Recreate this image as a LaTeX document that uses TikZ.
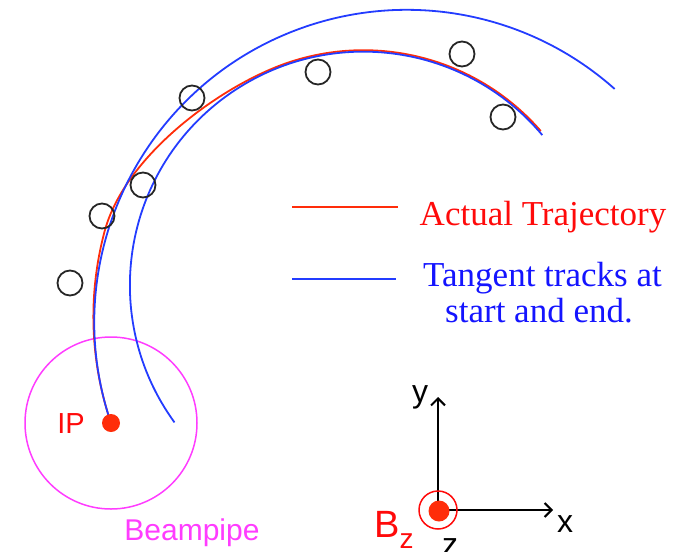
\documentclass[tikz,border=0pt]{standalone}
\usepackage{fontspec}
\setmainfont{Liberation Serif}
\setsansfont{Liberation Sans}
\usetikzlibrary{arrows.meta}
\definecolor{trkred}{RGB}{255,45,10}
\definecolor{trkblue}{RGB}{35,60,255}
\definecolor{txtred}{RGB}{255,10,10}
\definecolor{txtblue}{RGB}{20,20,255}
\definecolor{pipecol}{RGB}{255,60,255}
\begin{document}
\begin{tikzpicture}[x=1pt,y=-1pt,
  redtrk/.style={draw=trkred,line width=1.8pt},
  bluetrk/.style={draw=trkblue,line width=1.8pt},
  hit/.style={circle,draw=black!85,line width=1.8pt,minimum size=25pt,inner sep=0pt},
  axisarrow/.style={line width=2pt,-{Straight Barb[length=7pt,width=14pt,line width=2pt]}},
  serifbig/.style={anchor=base,font=\fontsize{35}{36}\selectfont},
  sanslbl/.style={anchor=base,font=\sffamily\fontsize{32}{34}\selectfont}]
\useasboundingbox (0,0) rectangle (679,551);
\clip (0,0) rectangle (679,551);

% beampipe and IP
\coordinate (ip) at (111,423);
\node[circle,draw=pipecol,line width=1.5pt,minimum size=172pt,inner sep=0pt] (beampipe) at (ip) {};
\node[anchor=base,text=pipecol,font=\sffamily\fontsize{30}{32}\selectfont] (pipelbl) at (192,540) {Beampipe};

% actual trajectory
\draw[redtrk] (ip) arc[start angle=161.2,end angle=195,radius=330]
  .. controls (125.3,154.0) and (224.2,83.3) .. (290.8,61.7)
  arc[start angle=252,end angle=319,radius=235];

% tangent tracks
\draw[bluetrk] (ip) arc[start angle=161.2,end angle=311.7,radius=312.5];
\coordinate (istart) at (174.5,422.4);
\draw[bluetrk] (istart) arc[start angle=144,end angle=320,radius=233.5];

\node[circle,fill=trkred,minimum size=18pt,inner sep=0pt] (ipdot) at (ip) {};
\node[anchor=base,text=txtred,font=\sffamily\fontsize{29}{30}\selectfont] (iplbl) at (71,433) {IP};

% hits
\node[hit] (h1) at (70,283) {};
\node[hit] (h2) at (102,216) {};
\node[hit] (h3) at (143,185) {};
\node[hit] (h4) at (192,98) {};
\node[hit] (h5) at (318,72) {};
\node[hit] (h6) at (462,54) {};
\node[hit] (h7) at (503,117) {};

% legend
\coordinate (lr1) at (292,207);
\coordinate (lr2) at (398,207);
\coordinate (lb1) at (292,279);
\coordinate (lb2) at (396,279);
\draw[draw=trkred,line width=1.5pt] (lr1) -- (lr2);
\draw[draw=trkblue,line width=1.5pt] (lb1) -- (lb2);
\node[serifbig,text=txtred] (actual) at (543,225) {Actual Trajectory};
\node[serifbig,text=txtblue] (tan1) at (542.5,286) {Tangent tracks at};
\node[serifbig,text=txtblue] (tan2) at (539,322) {start and end.};

% axes
\coordinate (O) at (438,510);
\coordinate (ytip) at (438,397);
\coordinate (xtip) at (553,510);
\draw[axisarrow] (O) -- (ytip);
\draw[axisarrow] (O) -- (xtip);
\node[circle,draw=txtred,line width=1.5pt,minimum size=38pt,inner sep=0pt] (ring) at (O) {};
\node[circle,fill=trkred,minimum size=21pt,inner sep=0pt] (bdot) at (439,511) {};
\node[sanslbl] (ylbl) at (420,402) {y};
\node[sanslbl] (xlbl) at (565,532) {x};
\node[sanslbl] (zlbl) at (450,555) {z};
\node[anchor=base west,inner sep=0pt,text=txtred,font=\sffamily\fontsize{38}{40}\selectfont] (bz) at (374,537) {B\raisebox{-11pt}{\fontsize{28}{28}\selectfont z}};
\end{tikzpicture}
\end{document}
